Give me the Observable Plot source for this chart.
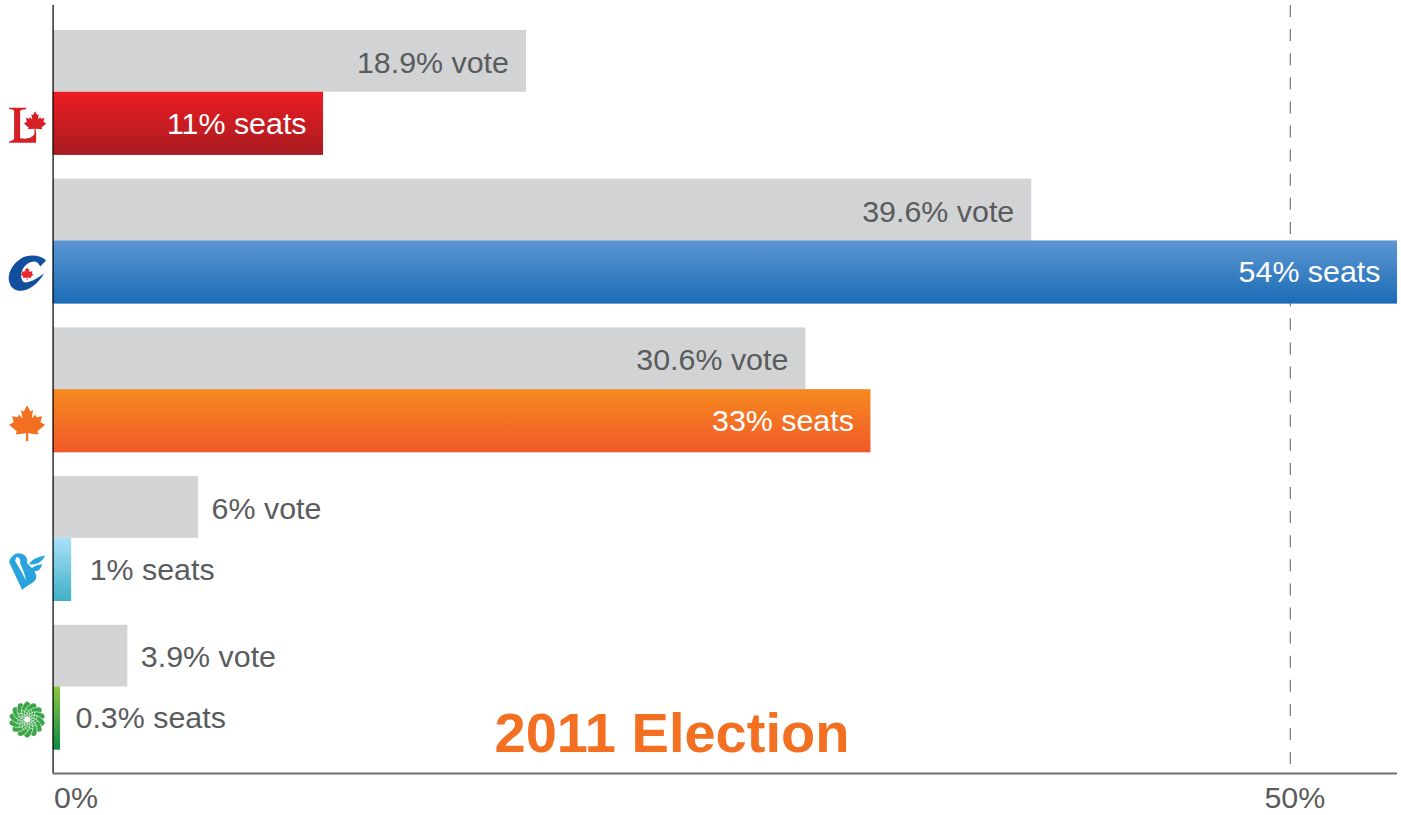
<!DOCTYPE html>
<html><head><meta charset="utf-8">
<script src="https://cdn.jsdelivr.net/npm/d3@7"></script>
<script src="https://cdn.jsdelivr.net/npm/@observablehq/plot@0.6"></script>
<style>html,body{margin:0;padding:0;background:#fff;overflow:hidden}svg{display:block}</style>
</head><body><div id="chart"></div>
<script>
// Data
const parties = ["Liberal","Conservative","NDP","Bloc","Green"];
const voteLabels = ["18.9% vote","39.6% vote","30.6% vote","6% vote","3.9% vote"];
const seatLabels = ["11% seats","54% seats","33% seats","1% seats","0.3% seats"];
const voteBars = [19.13,39.55,30.42,5.88,3.02];   // drawn bar lengths
const seatBars = [10.93,54.33,33.05,0.75,0.3];
const tickValues = [0,50];
const titleText = "2011 Election";
const gradients = [["#ed1c24","#a61c20"],["#5c96d2","#1b6cb5"],["#f68a1f","#f1592a"],["#a9e1f9","#40afc5"],["#8cc63f","#0d8a46"]];
const logoColors = ["#d71f26","#124f9e","#f37021","#29a3dd","#3aa648"];

const period = 148.7, yTop = -25/period, yBottom = 743/period;
const voteShare = 0.415, seatEnd = 0.84;
const rows = parties.map((p,i)=>({party:p,i,vote:voteBars[i],seat:seatBars[i],voteLabel:voteLabels[i],seatLabel:seatLabels[i],fill:`url(#grad${i})`}));

const leafPts = [[0,-17],[3.3,-10.8],[6,-12.2],[4.6,-3.6],[8.2,-7.6],[9.4,-5],[15,-6],[13.4,0],[18,2.6],[10.4,9],[11.4,12.2],[1,11],[1.2,19]];
function leaf(ctx,s,ox=0,oy=0){
  const all = [...leafPts, ...leafPts.slice(1).reverse().map(([x,y])=>[-x,y])];
  all.forEach(([x,y],k)=>{const X=ox+x*s,Y=oy+y*s; k?ctx.lineTo(X,Y):ctx.moveTo(X,Y);});
  ctx.closePath();
}
const poly = (ctx,pts)=>{pts.forEach(([x,y],k)=>k?ctx.lineTo(x,y):ctx.moveTo(x,y));ctx.closePath();};
const logoSymbols = [
 {draw(c){ // serif L + leaf
   poly(c,[[-18,-17],[-1,-17],[-1,-15.6],[-5,-15],[-7,-14],[-7,13.5],[-2,14],[3,13],[6,11],[9,7],[9,18],[-18,18],[-18,16.6],[-14.5,15.5],[-13,14],[-13,-14],[-14.5,-15.4],[-18,-15.8]]);
   leaf(c,0.62,8,-3);
 }},
 {draw(c){ // C swoosh
   c.moveTo(19,-13);
   c.bezierCurveTo(14,-18,6,-19,-2,-17);
   c.bezierCurveTo(-12,-13,-20,-2,-18,8);
   c.bezierCurveTo(-16,17,-8,19,0,16);
   c.bezierCurveTo(7,13,13,7,17,0);
   c.bezierCurveTo(10,5,3,9,-2,9);
   c.bezierCurveTo(-6,8,-7,2,-5,-3);
   c.bezierCurveTo(-3,-8,2,-12,7,-12);
   c.bezierCurveTo(10,-12,12,-10,13,-7);
   c.closePath();
 }},
 {draw(c){ leaf(c,1); }},
 {draw(c){ // Bloc: heart + two leaves
   c.moveTo(-18,-9);
   c.bezierCurveTo(-16,-15,-12,-18,-7,-17.5);
   c.bezierCurveTo(-2,-17,1,-13,0,-8);
   c.bezierCurveTo(4,-3,10,0,9,7);
   c.bezierCurveTo(8,12,0,14,-5,19);
   c.closePath();
   c.moveTo(2,-7);
   c.bezierCurveTo(6,-13,12,-14,18,-15.5);
   c.bezierCurveTo(15,-9,9,-5,2,-7);
   c.closePath();
   c.moveTo(4,-2);
   c.bezierCurveTo(7,-6,12,-6,15,-7);
   c.bezierCurveTo(14,-2,11,1,7,0);
   c.closePath();
 }},
 {draw(c){ // Green flower
   const n=14, R=15.5;
   for(let k=0;k<n;k++){
     const a=k*2*Math.PI/n, b=(k+1)*2*Math.PI/n, m=(a+b)/2;
     if(!k) c.moveTo(R*Math.cos(a),R*Math.sin(a));
     c.quadraticCurveTo(21*Math.cos(m),21*Math.sin(m),R*Math.cos(b),R*Math.sin(b));
   }
   c.closePath();
   c.moveTo(3,0);c.arc(0,0,3,0,Math.PI*2,true);c.closePath();
 }}
];
const canadaLeaf = {draw(c){leaf(c,0.36,0,0);}};
const blocStripe = {draw(c){
  c.moveTo(-11,-13.5);
  c.bezierCurveTo(-8,-14,-6,-11,-7,-8);
  c.bezierCurveTo(-5,-3,-2,3,-1,10);
  c.bezierCurveTo(-4,3,-9,-5,-12,-10);
  c.closePath();
}};
const swirl = {draw(c){
  for(let k=0;k<14;k++){const a=k*Math.PI/7;
    c.moveTo(3*Math.cos(a),3*Math.sin(a));
    c.quadraticCurveTo(11*Math.cos(a+0.2),11*Math.sin(a+0.2),16*Math.cos(a+0.9),16*Math.sin(a+0.9));
    c.moveTo(4*Math.cos(a),4*Math.sin(a));
    c.quadraticCurveTo(9*Math.cos(a-0.3),9*Math.sin(a-0.3),11*Math.cos(a-0.8),11*Math.sin(a-0.8));
  }
}};

const defs = () => {
  const d = d3.create("svg:defs");
  gradients.forEach(([a,b],i)=>{
    const g = d.append("linearGradient").attr("id",`grad${i}`).attr("x1",0).attr("x2",0).attr("y1",0).attr("y2",1);
    g.append("stop").attr("offset","0%").attr("stop-color",a);
    g.append("stop").attr("offset","100%").attr("stop-color",b);
  });
  return d.node();
};

const font = "'Liberation Sans',Arial,sans-serif";
const textGrey = "#5a5b5d";
const rowMid = i => i + (voteShare+seatEnd)/2;
const voteMid = i => i + voteShare/2;
const base = {fontFamily:font,fontSize:30.4,lineAnchor:"middle"};
const logoBase = {x:()=>0,y:d=>rowMid(d.i),dx:-26,dy:1,stroke:"none"};

const plot = Plot.plot({
  width:1401,height:815,
  marginLeft:53,marginRight:4,marginTop:5,marginBottom:42,
  x:{domain:[0,54.33],range:[52.6,1397],axis:null},
  y:{domain:[yTop,yBottom],range:[5,773],axis:null},
  style:{fontFamily:font,background:"#fff",overflow:"visible"},
  marks:[
    defs,
    Plot.ruleX([50],{y1:yTop,y2:yBottom,stroke:"#808285",strokeWidth:1.3,strokeDasharray:"12 12.1"}),
    Plot.rectX(rows,{x1:0,x2:"vote",y1:d=>d.i,y2:d=>d.i+voteShare,fill:"#d1d3d4"}),
    ...rows.map(r=>Plot.rectX([r],{x1:0,x2:"seat",y1:d=>d.i+voteShare,y2:d=>d.i+seatEnd,fill:r.fill})),
    Plot.ruleX([0],{y1:yTop,y2:yBottom,stroke:"#111",strokeWidth:1.3}),
    Plot.ruleY([yBottom],{x1:0,x2:54.33,stroke:"#6d6e71",strokeWidth:2}),
    Plot.text(rows.filter(d=>d.vote>10),{...base,x:"vote",y:d=>voteMid(d.i),dy:2,text:"voteLabel",textAnchor:"end",dx:-17.5,fill:textGrey}),
    Plot.text(rows.filter(d=>d.seat>10),{...base,x:"seat",y:d=>rowMid(d.i),text:"seatLabel",textAnchor:"end",dx:-17,fill:"#fff"}),
    Plot.text(rows.filter(d=>d.vote<=10),{...base,x:"vote",y:d=>voteMid(d.i),dy:1.5,text:"voteLabel",textAnchor:"start",dx:13,fill:textGrey}),
    Plot.text(rows.filter(d=>d.seat<=10&&d.seat>0.5),{...base,x:"seat",y:d=>rowMid(d.i),text:"seatLabel",textAnchor:"start",dx:18,fill:textGrey}),
    Plot.text(rows.filter(d=>d.seat<=0.5),{...base,x:"seat",y:d=>rowMid(d.i),text:"seatLabel",textAnchor:"start",dx:15,fill:textGrey}),
    Plot.text(tickValues.filter(v=>v===0),{...base,x:d=>d,text:d=>d+"%",frameAnchor:"bottom",dy:25,textAnchor:"start",dx:1,fill:textGrey}),
    Plot.text(tickValues.filter(v=>v!==0),{...base,x:d=>d,text:d=>d+"%",frameAnchor:"bottom",dy:25,textAnchor:"middle",dx:4.5,fill:textGrey}),
    Plot.text([titleText],{fontFamily:font,fontSize:56,fontWeight:700,frameAnchor:"top-left",dx:441,dy:729,lineAnchor:"middle",textAnchor:"start",fill:"#f36f21"}),
    ...rows.map((r,i)=>Plot.dot([r],{...logoBase,symbol:logoSymbols[i],fill:logoColors[i]})),
    Plot.dot([rows[1]],{...logoBase,symbol:canadaLeaf,fill:"#e8262c"}),
    Plot.dot([rows[3]],{...logoBase,symbol:blocStripe,fill:"#fff"}),
    Plot.dot([rows[4]],{...logoBase,symbol:swirl,fill:"none",stroke:"#fff",strokeWidth:0.6})
  ]
});
document.getElementById("chart").append(plot);
</script></body></html>
